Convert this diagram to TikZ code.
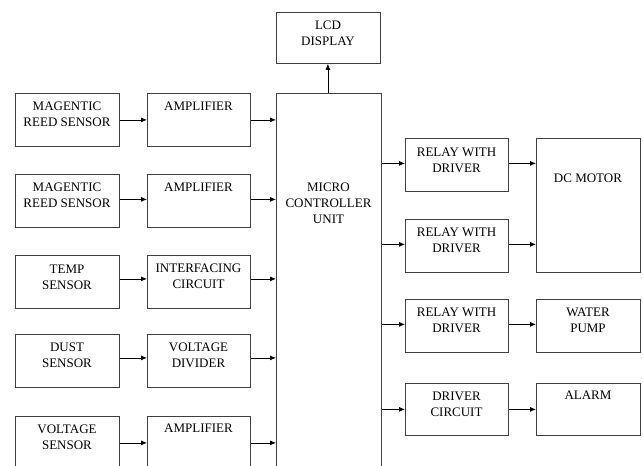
\documentclass[tikz,border=0pt]{standalone}
\usepackage{fontspec}
\newfontfamily\serf{Liberation Serif}
\usetikzlibrary{arrows.meta}
\begin{document}
\begin{tikzpicture}[x=1pt,y=-1pt,
  box/.style={draw=black!75, line width=0.8pt, minimum width=104pt, minimum height=53pt, inner sep=0pt, anchor=north west},
  txt/.style={anchor=north, align=center, inner sep=0pt, font=\serf\fontsize{13}{15.6}\selectfont},
  conn/.style={draw=black, line width=0.8pt, -{Latex[length=6pt,width=5pt]}}]
\useasboundingbox[fill=white] (0,0) rectangle (643,466);
% left column
\node[box] (s1) at (15,93) {};
\node[box] (s2) at (15,174) {};
\node[box] (s3) at (15,255) {};
\node[box] (s4) at (15,334) {};
\node[box] (s5) at (15,416) {};
% second column
\node[box, minimum width=103pt] (a1) at (147,93) {};
\node[box, minimum width=103pt] (a2) at (147,174) {};
\node[box, minimum width=103pt] (a3) at (147,255) {};
\node[box, minimum width=103pt] (a4) at (147,334) {};
\node[box, minimum width=103pt] (a5) at (147,416) {};
% MCU and LCD
\node[box, minimum width=105pt, minimum height=400pt] (mcu) at (276,93) {};
\node[box, minimum width=104pt, minimum height=51pt] (lcd) at (276,12) {};
% right columns
\node[box, minimum width=103pt] (r1) at (405,138) {};
\node[box, minimum width=103pt] (r2) at (405,219) {};
\node[box, minimum width=103pt] (r3) at (405,299) {};
\node[box, minimum width=103pt, minimum height=52pt] (r4) at (405,383) {};
\node[box, minimum width=104pt, minimum height=134pt] (dc) at (536,138) {};
\node[box, minimum width=104pt] (wp) at (536,299) {};
\node[box, minimum width=104pt, minimum height=52pt] (al) at (536,383) {};
% texts
\node[txt] (ts1) at (67,102) {MAGENTIC\\REED SENSOR};
\node[txt] (ts2) at (67,183) {MAGENTIC\\REED SENSOR};
\node[txt] (ts3) at (67,265) {TEMP\\SENSOR};
\node[txt] (ts4) at (67,343) {DUST\\SENSOR};
\node[txt] (ts5) at (67,425) {VOLTAGE\\SENSOR};
\node[txt] (ta1) at (198.5,102) {AMPLIFIER};
\node[txt] (ta2) at (198.5,183) {AMPLIFIER};
\node[txt] (ta3) at (198.5,264) {INTERFACING\\CIRCUIT};
\node[txt] (ta4) at (198.5,343) {VOLTAGE\\DIVIDER};
\node[txt] (ta5) at (198.5,424) {AMPLIFIER};
\node[txt] (tmcu) at (328.5,183) {MICRO\\CONTROLLER\\UNIT};
\node[txt] (tlcd) at (328,21) {LCD\\DISPLAY};
\node[txt] (tr1) at (456.5,148) {RELAY WITH\\DRIVER};
\node[txt] (tr2) at (456.5,228) {RELAY WITH\\DRIVER};
\node[txt] (tr3) at (456.5,308) {RELAY WITH\\DRIVER};
\node[txt] (tr4) at (456.5,392) {DRIVER\\CIRCUIT};
\node[txt] (tdc) at (588,174) {DC MOTOR};
\node[txt] (twp) at (588,308) {WATER\\PUMP};
\node[txt] (tal) at (588,391) {ALARM};
% connectors
\draw[conn] (s1.east) -- (a1.west);
\draw[conn] ([yshift=1.5pt]s2.east) -- ([yshift=1.5pt]a2.west);
\draw[conn] ([yshift=3pt]s3.east) -- ([yshift=3pt]a3.west);
\draw[conn] ([yshift=3pt]s4.east) -- ([yshift=3pt]a4.west);
\draw[conn] (s5.east) -- (a5.west);
\draw[conn] (a1.east) -- (a1.east -| mcu.west);
\draw[conn] ([yshift=1.5pt]a2.east) -- ([yshift=1.5pt]a2.east -| mcu.west);
\draw[conn] ([yshift=3pt]a3.east) -- ([yshift=3pt]a3.east -| mcu.west);
\draw[conn] ([yshift=3pt]a4.east) -- ([yshift=3pt]a4.east -| mcu.west);
\draw[conn] (a5.east) -- (a5.east -| mcu.west);
\draw[conn] ([xshift=-1pt]mcu.north) -- ([xshift=-1pt]mcu.north |- lcd.south);
\draw[conn] ([yshift=1.5pt]r1.west -| mcu.east) -- ([yshift=1.5pt]r1.west);
\draw[conn] ([yshift=1.5pt]r2.west -| mcu.east) -- ([yshift=1.5pt]r2.west);
\draw[conn] ([yshift=1.5pt]r3.west -| mcu.east) -- ([yshift=1.5pt]r3.west);
\draw[conn] (r4.west -| mcu.east) -- (r4.west);
\draw[conn] ([yshift=1.5pt]r1.east) -- ([yshift=1.5pt]r1.east -| dc.west);
\draw[conn] ([yshift=1.5pt]r2.east) -- ([yshift=1.5pt]r2.east -| dc.west);
\draw[conn] ([yshift=1.5pt]r3.east) -- ([yshift=1.5pt]wp.west);
\draw[conn] (r4.east) -- (al.west);
\end{tikzpicture}
\end{document}
